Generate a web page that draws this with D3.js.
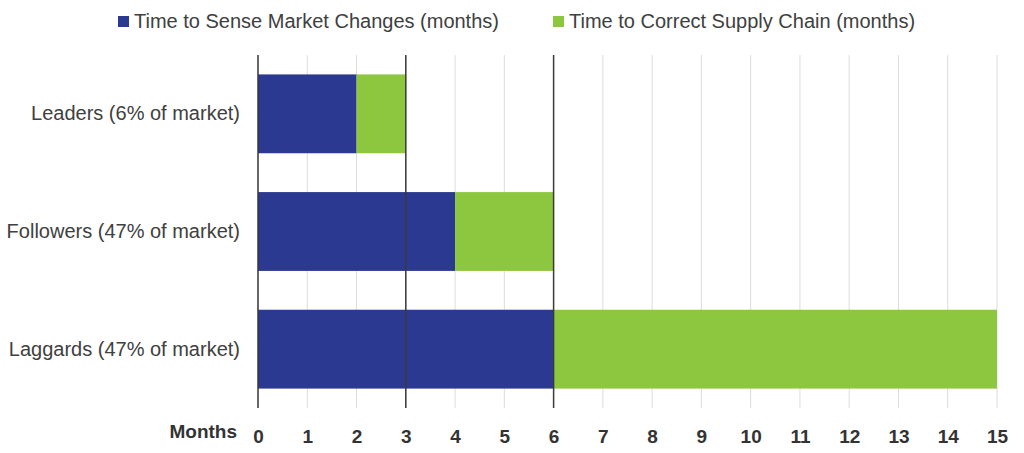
<!DOCTYPE html>
<html>
<head>
<meta charset="utf-8">
<script src="https://cdn.jsdelivr.net/npm/d3@7"></script>
<style>
  body { margin: 0; background: #fff; }
  svg text { font-family: "Liberation Sans", Arial, sans-serif; }
</style>
</head>
<body>
<svg id="chart" width="1024" height="453"></svg>
<script>
// data
const categories = ['Leaders (6% of market)', 'Followers (47% of market)', 'Laggards (47% of market)'];
const seriesNames = ['Time to Sense Market Changes (months)', 'Time to Correct Supply Chain (months)'];
const senseMonths = [2, 4, 6];
const correctMonths = [1, 2, 9];
const tickValues = d3.range(0, 16);
const markerLines = [0, 3, 6];

const colors = ['#2b3990', '#8dc63f'];
const margin = { top: 55, right: 27, bottom: 45, left: 258 };
const width = 1024, height = 453;

const svg = d3.select('#chart');

const x = d3.scaleLinear()
  .domain([0, 15])
  .range([margin.left, width - margin.right]);

const y = d3.scaleBand()
  .domain(categories)
  .range([margin.top, height - margin.bottom])
  .paddingInner(0.33)
  .paddingOuter(0.165);

// light grid
svg.append('g')
  .selectAll('line')
  .data(tickValues)
  .join('line')
  .attr('x1', d => x(d))
  .attr('x2', d => x(d))
  .attr('y1', margin.top)
  .attr('y2', height - margin.bottom)
  .attr('stroke', '#dcdcdc')
  .attr('stroke-width', 1);

// stacked bars
const rows = categories.map((c, i) => ({ cat: c, vals: [senseMonths[i], correctMonths[i]] }));
const stack = d3.stack().keys([0, 1]).value((d, k) => d.vals[k]);
const layers = stack(rows);

svg.append('g')
  .selectAll('g')
  .data(layers)
  .join('g')
  .attr('fill', (d, i) => colors[i])
  .selectAll('rect')
  .data(d => d)
  .join('rect')
  .attr('x', d => x(d[0]))
  .attr('width', d => x(d[1]) - x(d[0]))
  .attr('y', d => y(d.data.cat))
  .attr('height', y.bandwidth());

// dark reference lines at 0, 3, 6
svg.append('g')
  .selectAll('line')
  .data(markerLines)
  .join('line')
  .attr('x1', d => x(d))
  .attr('x2', d => x(d))
  .attr('y1', margin.top)
  .attr('y2', height - margin.bottom)
  .attr('stroke', '#3a3a3a')
  .attr('stroke-width', 1.5);

// x axis labels
const xAxis = d3.axisBottom(x).tickValues(tickValues).tickSize(0).tickPadding(0);
const gx = svg.append('g')
  .attr('transform', `translate(0,${height - margin.bottom + 21})`)
  .call(xAxis);
gx.select('.domain').remove();
gx.selectAll('text')
  .attr('fill', '#333')
  .style('font-size', '19px')
  .style('font-weight', 'bold');

svg.append('text')
  .attr('x', 237)
  .attr('y', 438)
  .attr('text-anchor', 'end')
  .attr('fill', '#333')
  .style('font-size', '19px')
  .style('font-weight', 'bold')
  .text('Months');

// y axis labels
const yAxis = d3.axisLeft(y).tickSize(0).tickPadding(18);
const gy = svg.append('g')
  .attr('transform', `translate(${margin.left},0)`)
  .call(yAxis);
gy.select('.domain').remove();
gy.selectAll('text')
  .attr('fill', '#404040')
  .style('font-size', '20px');

// legend
const legendX = [118, 553];
const legend = svg.append('g')
  .selectAll('g')
  .data(seriesNames)
  .join('g')
  .attr('transform', (d, i) => `translate(${legendX[i]},16)`);
legend.append('rect')
  .attr('width', 11)
  .attr('height', 11)
  .attr('fill', (d, i) => colors[i]);
legend.append('text')
  .attr('x', 16)
  .attr('y', 12)
  .attr('fill', '#404040')
  .style('font-size', '20px')
  .text(d => d);
</script>
</body>
</html>
